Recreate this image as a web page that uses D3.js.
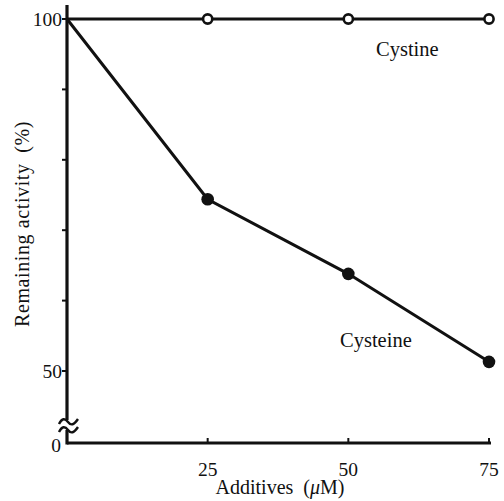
<!DOCTYPE html>
<html>
<head>
<meta charset="utf-8">
<script src="https://cdn.jsdelivr.net/npm/d3@7"></script>
<style>
  body { margin: 0; background: #fff; }
  text { font-family: "Liberation Serif", "DejaVu Serif", serif; fill: #111; }
</style>
</head>
<body>
<svg id="chart"></svg>
<script>
//Data
var doses = [0, 25, 50, 75];
var cystine = [100, 100, 100, 100];
var cysteine = [100, 74.4, 63.8, 51.3];
var xTicks = [25, 50, 75];
var yMinorTicks = [60, 70, 80, 90];
var yLabelTicks = [50, 100];

//Dimensions
var dimensions = { width: 504, height: 501, left: 67, right: 489, top: 19, bottom: 443 };

var svg = d3.select("#chart")
            .attr("width", dimensions.width)
            .attr("height", dimensions.height);

//Scales (y axis is broken between 0 and 50)
var xScale = d3.scaleLinear().domain([0, 75]).range([dimensions.left, dimensions.right]);
var yScale = d3.scaleLinear().domain([50, 100]).range([371, dimensions.top]);

//Axes
var axisGroup = svg.append("g").attr("stroke", "#111").attr("fill", "none");

//Y axis upper part
axisGroup.append("line")
    .attr("x1", dimensions.left).attr("x2", dimensions.left)
    .attr("y1", 5).attr("y2", 420)
    .attr("stroke-width", 3.2);
//Y axis lower part
axisGroup.append("line")
    .attr("x1", dimensions.left).attr("x2", dimensions.left)
    .attr("y1", 430).attr("y2", dimensions.bottom + 1.5)
    .attr("stroke-width", 3.2);

//Break marks
[422, 430].forEach(function(y){
    axisGroup.append("path")
        .attr("d", "M59," + (y + 2) + " c3,-6 6,-6 9,-2 s6,3 10,-3")
        .attr("stroke-width", 2.4);
});

//X axis
axisGroup.append("line")
    .attr("x1", dimensions.left).attr("x2", xScale(75) + 2)
    .attr("y1", dimensions.bottom).attr("y2", dimensions.bottom)
    .attr("stroke-width", 3.2);

axisGroup.selectAll(".xtick")
    .data(xTicks)
    .join("line")
    .attr("x1", function(d){ return xScale(d); })
    .attr("x2", function(d){ return xScale(d); })
    .attr("y1", dimensions.bottom)
    .attr("y2", dimensions.bottom - 5)
    .attr("stroke-width", 2);

//Y ticks (outward)
axisGroup.selectAll(".ytick")
    .data(yMinorTicks.concat(yLabelTicks))
    .join("line")
    .attr("x1", dimensions.left - 5)
    .attr("x2", dimensions.left)
    .attr("y1", function(d){ return yScale(d); })
    .attr("y2", function(d){ return yScale(d); })
    .attr("stroke-width", 2);

//Tick labels
svg.selectAll(".xlabel")
    .data(xTicks)
    .join("text")
    .attr("x", function(d){ return xScale(d); })
    .attr("y", 476)
    .attr("text-anchor", "middle")
    .style("font-size", "19.5px")
    .text(function(d){ return d; });

svg.selectAll(".ylabel")
    .data(yLabelTicks)
    .join("text")
    .attr("x", 62)
    .attr("y", function(d){ return yScale(d) + 7; })
    .attr("text-anchor", "end")
    .style("font-size", "19.5px")
    .text(function(d){ return d; });

svg.append("text")
    .attr("x", 61)
    .attr("y", 452)
    .attr("text-anchor", "end")
    .style("font-size", "19.5px")
    .text("0");

//Axis titles
var xTitle = svg.append("text")
    .attr("x", 280)
    .attr("y", 494)
    .attr("text-anchor", "middle")
    .style("font-size", "20px");
xTitle.append("tspan").text("Additives\u2002(");
xTitle.append("tspan").style("font-style", "italic").text("\u03bc");
xTitle.append("tspan").text("M)");

svg.append("text")
    .attr("transform", "translate(29,224) rotate(-90)")
    .attr("text-anchor", "middle")
    .style("font-size", "20px")
    .style("letter-spacing", "0.6px")
    .text("Remaining activity\u2002(%)");

//Lines
var line = d3.line()
    .x(function(d){ return xScale(d[0]); })
    .y(function(d){ return yScale(d[1]); });

svg.append("path")
    .datum(d3.zip(doses, cystine))
    .attr("d", line)
    .attr("fill", "none")
    .attr("stroke", "#111")
    .attr("stroke-width", 3);

svg.append("path")
    .datum(d3.zip(doses, cysteine))
    .attr("d", line)
    .attr("fill", "none")
    .attr("stroke", "#111")
    .attr("stroke-width", 3);

//Markers (none at 0)
svg.selectAll(".open")
    .data(d3.zip(doses, cystine).slice(1))
    .join("circle")
    .attr("cx", function(d){ return xScale(d[0]); })
    .attr("cy", function(d){ return yScale(d[1]); })
    .attr("r", 4.6)
    .attr("fill", "#fff")
    .attr("stroke", "#111")
    .attr("stroke-width", 2.6);

svg.selectAll(".filled")
    .data(d3.zip(doses, cysteine).slice(1))
    .join("circle")
    .attr("cx", function(d){ return xScale(d[0]); })
    .attr("cy", function(d){ return yScale(d[1]); })
    .attr("r", 6.3)
    .attr("fill", "#111");

//Series labels
svg.append("text")
    .attr("x", 376)
    .attr("y", 56)
    .style("font-size", "20.5px")
    .text("Cystine");

svg.append("text")
    .attr("x", 340)
    .attr("y", 347)
    .style("font-size", "20.5px")
    .text("Cysteine");
</script>
</body>
</html>
